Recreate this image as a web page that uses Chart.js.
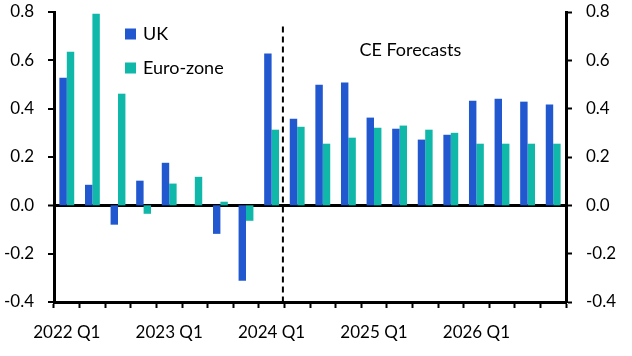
<!DOCTYPE html>
<html><head><meta charset="utf-8">
<script src="https://cdn.jsdelivr.net/npm/chart.js@4.4.0/dist/chart.umd.min.js"></script>
<style>html,body{margin:0;padding:0;background:#fff}#wrap{width:632px;height:356px;position:relative}</style>
</head><body><div id="wrap"><canvas id="c" width="632" height="356"></canvas></div>
<script>
const categories = ['2022 Q1','2022 Q2','2022 Q3','2022 Q4','2023 Q1','2023 Q2','2023 Q3','2023 Q4','2024 Q1','2024 Q2','2024 Q3','2024 Q4','2025 Q1','2025 Q2','2025 Q3','2025 Q4','2026 Q1','2026 Q2','2026 Q3','2026 Q4'];
const ukValues = [0.528,0.085,-0.080,0.102,0.176,0.0,-0.118,-0.312,0.628,0.358,0.499,0.508,0.363,0.317,0.272,0.292,0.433,0.441,0.429,0.417];
const ezValues = [0.636,0.793,0.462,-0.035,0.090,0.118,0.015,-0.064,0.313,0.325,0.255,0.280,0.321,0.330,0.313,0.300,0.255,0.255,0.255,0.255];
const shownXLabels = ['2022 Q1','2023 Q1','2024 Q1','2025 Q1','2026 Q1'];
const yMin = -0.4, yMax = 0.8, yStep = 0.2;
const seriesNames = ['UK','Euro-zone'];
const seriesColors = ['#2157CF','#10B8A9'];
const forecastStartIndex = 8.5;
const forecastLabel = 'CE Forecasts';

const FONT = 'Lato';
const overlay = {
  id:'overlay',
  afterDatasetsDraw(chart){
    const {ctx, scales:{x,y}} = chart;
    ctx.save();
    const fx = (x.getPixelForValue(Math.floor(forecastStartIndex)) + x.getPixelForValue(Math.ceil(forecastStartIndex)))/2 - 1.5;
    ctx.strokeStyle = '#000'; ctx.lineWidth = 2; ctx.setLineDash([6,4]);
    ctx.beginPath(); ctx.moveTo(fx, y.getPixelForValue(0.74)); ctx.lineTo(fx, y.getPixelForValue(yMin)); ctx.stroke();
    ctx.setLineDash([]);
    ctx.fillStyle = '#000'; ctx.font = '18px ' + FONT; ctx.textAlign='center'; ctx.textBaseline='middle';
    ctx.fillText(forecastLabel, (x.getPixelForValue(13)+x.getPixelForValue(14))/2 - 2, y.getPixelForValue(0.64));
    ctx.font = '18px ' + FONT; ctx.textAlign='left';
    seriesNames.forEach((n,i)=>{
      const yy = 34 + i*34;
      ctx.fillStyle = seriesColors[i];
      ctx.fillRect(125, yy-5.5, 11, 11);
      ctx.fillStyle = '#000';
      ctx.fillText(n, 143, yy);
    });
    ctx.restore();
  }
};

const tickFont = {family: FONT, size: 17};
function fixY(w){ return (s)=>{ s.width = w; s.paddingTop = 0; s.paddingBottom = 0; }; }
new Chart(document.getElementById('c'), {
  type:'bar',
  data:{
    labels: categories,
    datasets: seriesNames.map((n,i)=>({
      label:n, data: i===0?ukValues:ezValues, backgroundColor: seriesColors[i],
      borderWidth:0, barPercentage:1.0, categoryPercentage:0.58, yAxisID: 'y'
    }))
  },
  options:{
    responsive:false, devicePixelRatio:1, animation:false,
    layout:{autoPadding:false, padding:{top:12,left:0,right:0,bottom:0}},
    plugins:{legend:{display:false}, tooltip:{enabled:false}},
    scales:{
      x:{
        offset:true,
        grid:{offset:true, drawOnChartArea:false, drawTicks:true, tickLength:6, tickColor:'#000', tickWidth:2},
        border:{display:true, color:'#000', width:3},
        ticks:{autoSkip:false, maxRotation:0, color:'#000', font:tickFont, padding:14,
          callback:(v,i)=> shownXLabels.includes(categories[i]) ? categories[i] : ''},
        afterFit:(s)=>{s.height = 54; s.paddingLeft = 0; s.paddingRight = 0;}
      },
      y:{
        position:'left', min:yMin, max:yMax,
        grid:{drawOnChartArea:true, tickLength:6, tickColor:'#000', tickWidth:2,
          color:(c)=> c.tick && Math.abs(c.tick.value)<1e-9 ? '#000' : 'rgba(0,0,0,0)',
          lineWidth:(c)=> c.tick && Math.abs(c.tick.value)<1e-9 ? 3 : 0},
        border:{display:true, color:'#000', width:3},
        ticks:{stepSize:yStep, color:'#000', font:tickFont, padding:14, callback:(v)=>v.toFixed(1)},
        afterFit:fixY(54)
      },
      y2:{
        position:'right', min:yMin, max:yMax,
        grid:{drawOnChartArea:false, tickLength:6, tickColor:'#000', tickWidth:2},
        border:{display:true, color:'#000', width:3},
        ticks:{stepSize:yStep, color:'#000', font:tickFont, padding:14, callback:(v)=>v.toFixed(1)},
        afterFit:fixY(66)
      }
    }
  },
  plugins:[overlay]
});
</script></body></html>
